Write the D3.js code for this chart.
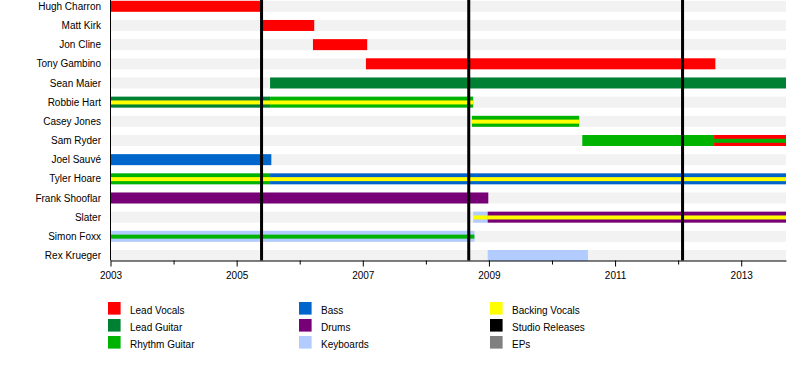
<!DOCTYPE html>
<html>
<head>
<meta charset="utf-8">
<script src="https://cdn.jsdelivr.net/npm/d3@7/dist/d3.min.js"></script>
<style>
  html, body { margin: 0; padding: 0; background: #fff; }
  svg { display: block; font-family: "Liberation Sans", Arial, Helvetica, sans-serif; }
</style>
</head>
<body>
<svg id="chart" width="800" height="380"></svg>
<script>
// ---- Data ----
const members = ["Hugh Charron", "Matt Kirk", "Jon Cline", "Tony Gambino", "Sean Maier",
  "Robbie Hart", "Casey Jones", "Sam Ryder", "Joel Sauvé", "Tyler Hoare",
  "Frank Shooflar", "Slater", "Simon Foxx", "Rex Krueger"];

const roles = ["Lead Vocals", "Lead Guitar", "Rhythm Guitar", "Bass", "Drums",
  "Keyboards", "Backing Vocals", "Studio Releases", "EPs"];
const roleColors = ["#ff0000", "#008033", "#00b300", "#0066cc", "#770077",
  "#b3ccff", "#ffff00", "#000000", "#808080"];

const startYear = 2003;
const endYear = 2013.71;

// [member, role, start, end, stripe role or null]
const periods = [
  ["Hugh Charron", "Lead Vocals", 2003.0, 2005.41, null],
  ["Matt Kirk", "Lead Vocals", 2005.39, 2006.23, null],
  ["Jon Cline", "Lead Vocals", 2006.21, 2007.07, null],
  ["Tony Gambino", "Lead Vocals", 2007.05, 2012.59, null],
  ["Sean Maier", "Lead Guitar", 2005.53, 2013.71, null],
  ["Robbie Hart", "Lead Guitar", 2003.0, 2005.53, "Backing Vocals"],
  ["Robbie Hart", "Rhythm Guitar", 2005.53, 2008.75, "Backing Vocals"],
  ["Casey Jones", "Rhythm Guitar", 2008.73, 2010.43, "Backing Vocals"],
  ["Sam Ryder", "Rhythm Guitar", 2010.48, 2012.57, null],
  ["Sam Ryder", "Lead Vocals", 2012.57, 2013.71, "Rhythm Guitar"],
  ["Joel Sauvé", "Bass", 2003.0, 2005.55, null],
  ["Tyler Hoare", "Rhythm Guitar", 2003.0, 2005.53, "Backing Vocals"],
  ["Tyler Hoare", "Bass", 2005.53, 2013.71, "Backing Vocals"],
  ["Frank Shooflar", "Drums", 2003.0, 2008.99, null],
  ["Slater", "Keyboards", 2008.75, 2008.98, "Backing Vocals"],
  ["Slater", "Drums", 2008.98, 2013.71, "Backing Vocals"],
  ["Simon Foxx", "Keyboards", 2003.0, 2008.77, "Rhythm Guitar"],
  ["Rex Krueger", "Keyboards", 2008.98, 2010.57, null]
];

const studioReleases = [2005.395, 2008.68, 2012.07];

const majorTicks = [2003, 2005, 2007, 2009, 2011, 2013];
const minorTicks = [2004, 2006, 2008, 2010, 2012];

// ---- Layout ----
const svg = d3.select("#chart");
const color = d3.scaleOrdinal().domain(roles).range(roleColors);

const x = d3.scaleLinear().domain([startYear, endYear]).range([110.5, 786]);
const y = d3.scalePoint().domain(members).range([6.3, 255.5]);
const barH = 11, stripeH = 4;
const axisY = 260.5;

// background bands
svg.append("g").selectAll("rect").data(members).join("rect")
  .attr("x", x(startYear)).attr("width", x(endYear) - x(startYear))
  .attr("y", d => y(d) - barH / 2).attr("height", barH)
  .attr("fill", "#f2f2f2");

// bars
svg.append("g").selectAll("rect").data(periods).join("rect")
  .attr("x", d => x(d[2])).attr("width", d => x(d[3]) - x(d[2]))
  .attr("y", d => y(d[0]) - barH / 2).attr("height", barH)
  .attr("fill", d => color(d[1]));

// stripes
svg.append("g").selectAll("rect").data(periods.filter(d => d[4])).join("rect")
  .attr("x", d => x(d[2])).attr("width", d => x(d[3]) - x(d[2]))
  .attr("y", d => y(d[0]) - stripeH / 2 + 0.3).attr("height", stripeH)
  .attr("fill", d => color(d[4]));

// studio release lines
svg.append("g").selectAll("line").data(studioReleases).join("line")
  .attr("x1", d => x(d)).attr("x2", d => x(d))
  .attr("y1", 0).attr("y2", axisY)
  .attr("stroke", color("Studio Releases")).attr("stroke-width", 3);

// left axis line
svg.append("line").attr("x1", 110.5).attr("x2", 110.5).attr("y1", 0).attr("y2", axisY)
  .attr("stroke", "#000").attr("stroke-width", 1);

// member labels
svg.append("g").selectAll("text").data(members).join("text")
  .attr("x", 101).attr("y", d => y(d) + 3.6)
  .attr("text-anchor", "end").attr("font-size", 10).attr("fill", "#000")
  .text(d => d);

// bottom axis
const axisG = svg.append("g").attr("transform", `translate(0,${axisY})`)
  .call(d3.axisBottom(x).tickValues(majorTicks).tickFormat(d3.format("d")).tickSize(6).tickSizeOuter(0).tickPadding(5));
axisG.select(".domain").attr("stroke", "#000");
axisG.selectAll("text").attr("font-size", 10).attr("font-family", "Liberation Sans, Arial, sans-serif").attr("fill", "#000");
svg.append("g").attr("transform", `translate(0,${axisY})`)
  .call(d3.axisBottom(x).tickValues(minorTicks).tickFormat("").tickSize(4).tickSizeOuter(0))
  .select(".domain").remove();

// legend
const legendCols = [108, 299, 490];
const legendRows = [302, 319, 336];
const legendData = roles.map((r, i) => ({ role: r, col: Math.floor(i / 3), row: i % 3 }));
const lg = svg.append("g").selectAll("g").data(legendData).join("g")
  .attr("transform", d => `translate(${legendCols[d.col]},${legendRows[d.row]})`);
lg.append("rect").attr("width", 12.6).attr("height", 12.6).attr("fill", d => color(d.role));
lg.append("text").attr("x", 22).attr("y", 12.3).attr("font-size", 10).attr("fill", "#000")
  .text(d => d.role);
</script>
</body>
</html>
